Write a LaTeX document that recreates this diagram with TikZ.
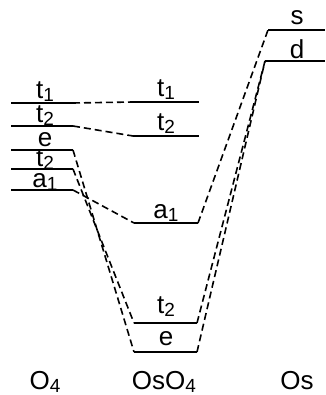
\documentclass[tikz,border=0pt]{standalone}
\usepackage{fontspec}
\setmainfont{Liberation Sans}
\usetikzlibrary{positioning}
\newcommand{\lsub}[1]{\raisebox{-3pt}{\fontsize{19}{19}\selectfont #1}}

\begin{document}
\begin{tikzpicture}[x=1pt, y=-1pt,
    level/.style={line width=1.8pt},
    corr/.style={line width=1.6pt, dash pattern=on 7pt off 4pt},
    lab/.style={anchor=base, inner sep=0pt, font=\fontsize{26}{30}\selectfont}
]
\useasboundingbox (0,0) rectangle (325,395);

% === O4 ===
\coordinate (Lt1-l) at (11,103);  \coordinate (Lt1-r) at (73,103);
\coordinate (Lt2-l) at (11,126);  \coordinate (Lt2-r) at (73,126);
\coordinate (Le-l)  at (11,150);  \coordinate (Le-r)  at (73,150);
\coordinate (Lt2b-l) at (11,169); \coordinate (Lt2b-r) at (73,169);
\coordinate (La1-l) at (11,190);  \coordinate (La1-r) at (73,190);

\draw[level, line width=2.8pt] (Lt1-l) -- (Lt1-r);
\draw[level] (Lt2-l) -- (Lt2-r);
\draw[level] (Le-l) -- (Le-r);
\draw[level] (Lt2b-l) -- (Lt2b-r);
\draw[level] (La1-l) -- (La1-r);

\node[lab] (lLt1) at (45,99) {t\lsub{1}};
\node[lab] (lLt2) at (45,123) {t\lsub{2}};
\node[lab] (lLe) at (45,147) {e};
\node[lab] (lLt2b) at (45,167) {t\lsub{2}};
\node[lab] (lLa1) at (45,187) {a\lsub{1}};

% === OsO4 ===
\coordinate (Mt1-l) at (133,102);  \coordinate (Mt1-r) at (199,102);
\coordinate (Mt2-l) at (133,136);  \coordinate (Mt2-r) at (199,136);
\coordinate (Ma1-l) at (134,223);  \coordinate (Ma1-r) at (198,223);
\coordinate (Mt2b-l) at (134,323); \coordinate (Mt2b-r) at (197,323);
\coordinate (Me-l) at (134,352);   \coordinate (Me-r) at (197,352);

\draw[level] (Mt1-l) -- (Mt1-r);
\draw[level] (Mt2-l) -- (Mt2-r);
\draw[level] (Ma1-l) -- (Ma1-r);
\draw[level] (Mt2b-l) -- (Mt2b-r);
\draw[level] (Me-l) -- (Me-r);

\node[lab] (lMt1) at (166,97) {t\lsub{1}};
\node[lab] (lMt2) at (166,131) {t\lsub{2}};
\node[lab] (lMa1) at (166,218) {a\lsub{1}};
\node[lab] (lMt2b) at (166,313) {t\lsub{2}};
\node[lab] (lMe) at (166,345) {e};

% === Os ===
\coordinate (Rs-l) at (268,30); \coordinate (Rs-r) at (325,30);
\coordinate (Rd-l) at (265,61); \coordinate (Rd-r) at (325,61);

\draw[level] (Rs-l) -- (Rs-r);
\draw[level] (Rd-l) -- (Rd-r);

\node[lab] (lRs) at (297,25) {s};
\node[lab] (lRd) at (297,59) {d};

% === correlaciones ===
\draw[corr] (Lt1-r) -- (Mt1-l);
\draw[corr] (Lt2-r) -- (Mt2-l);
\draw[corr] (Le-r) -- (Me-l);
\draw[corr] (Lt2b-r) -- (Mt2b-l);
\draw[corr] (La1-r) -- (Ma1-l);
\draw[corr] (Ma1-r) -- (Rs-l);
\draw[corr] (Mt2b-r) -- (Rd-l);
\draw[corr] (Me-r) -- (Rd-l);

% === etiquetas ===
\node[lab] (O4) at (45,389) {O\lsub{4}};
\node[lab] (OsO4) at (164,389) {OsO\lsub{4}};
\node[lab] (Os) at (297,389) {Os};

\end{tikzpicture}
\end{document}
